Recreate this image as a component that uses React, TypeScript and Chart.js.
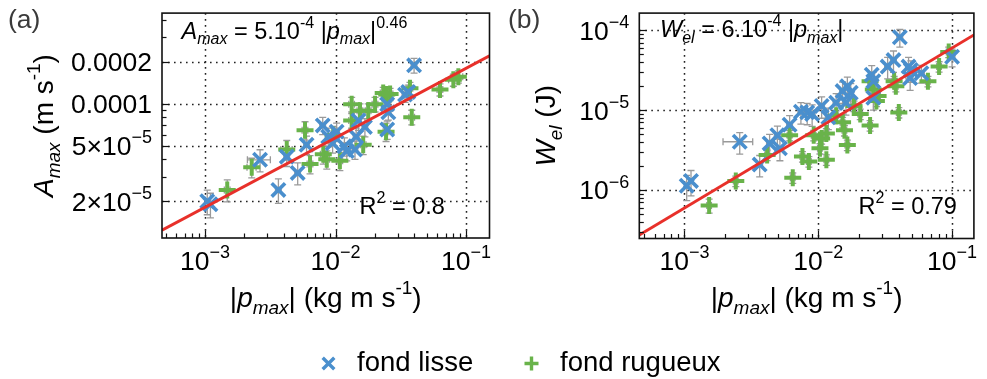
import React, { useEffect, useRef } from "react";
import { Chart, registerables } from "chart.js";
Chart.register(...registerables);

// ---------- Panel (a): A_max vs |p_max| ----------
const aLisseX = [1.04e-3, 1.1e-3, 2.64e-3, 3.65e-3, 4.23e-3, 5.13e-3, 6.0e-3, 7.98e-3, 8.8e-3, 1.02e-2, 9.5e-3, 1.17e-2, 1.22e-2, 1.41e-2, 1.44e-2, 1.5e-2, 1.68e-2, 2.49e-2, 2.54e-2, 2.49e-2, 3.41e-2, 3.61e-2, 4.0e-2];
const aLisseY = [2.0e-5, 1.9e-5, 3.96e-5, 2.41e-5, 4.17e-5, 3.19e-5, 5.08e-5, 6.98e-5, 5.8e-5, 6.3e-5, 5.2e-5, 4.95e-5, 4.57e-5, 4.69e-5, 5.8e-5, 7.57e-5, 6.8e-5, 9.9e-5, 8.66e-5, 6.53e-5, 1.16e-4, 1.21e-4, 1.88e-4];
const aLisseXErr = [0.04, 0.04, 0.2, 0.05, 0.05, 0.05, 0.05, 0.05, 0.05, 0.05, 0.05, 0.05, 0.05, 0.05, 0.05, 0.05, 0.05, 0.05, 0.05, 0.05, 0.05, 0.05, 0.05];
const aLisseYErr = [0.2, 0.2, 0.18, 0.2, 0.15, 0.18, 0.15, 0.14, 0.15, 0.15, 0.15, 0.15, 0.15, 0.15, 0.15, 0.15, 0.15, 0.12, 0.12, 0.15, 0.12, 0.12, 0.12];

const aRugX = [1.48e-3, 2.28e-3, 4.23e-3, 5.84e-3, 6.38e-3, 8.06e-3, 8.57e-3, 9.6e-3, 1.08e-2, 1.33e-2, 1.33e-2, 1.54e-2, 1.63e-2, 1.78e-2, 2.01e-2, 2.32e-2, 2.47e-2, 2.62e-2, 2.44e-2, 3.72e-2, 3.84e-2, 6.32e-2, 8.0e-2, 8.74e-2];
const aRugY = [2.41e-5, 3.5e-5, 4.69e-5, 6.45e-5, 3.69e-5, 4.33e-5, 3.99e-5, 5.96e-5, 3.89e-5, 9.9e-5, 7.57e-5, 8.88e-5, 5.08e-5, 8.88e-5, 9.9e-5, 1.19e-4, 1.16e-4, 1.17e-4, 6.3e-5, 1.29e-4, 8.0e-5, 1.26e-4, 1.48e-4, 1.56e-4];
const aRugXErr = [0.05, 0.08, 0.1, 0.05, 0.05, 0.05, 0.05, 0.05, 0.05, 0.05, 0.05, 0.05, 0.05, 0.05, 0.05, 0.05, 0.05, 0.05, 0.05, 0.05, 0.05, 0.05, 0.08, 0.08];
const aRugYErr = [0.18, 0.16, 0.16, 0.15, 0.15, 0.15, 0.15, 0.15, 0.15, 0.12, 0.12, 0.12, 0.15, 0.12, 0.12, 0.1, 0.1, 0.1, 0.15, 0.1, 0.12, 0.1, 0.1, 0.1];

const aFitX = [4.68e-4, 0.1514];
const aFitY = [1.24e-5, 2.2e-4];

const aXRange = [4.68e-4, 0.1514];
const aYRange = [1.09e-5, 4.45e-4];
const aYTicks = [2e-5, 5e-5, 1e-4, 2e-4];
const aYTickLabels = ["2×10^{−5}", "5×10^{−5}", "0.0001", "0.0002"];

// ---------- Panel (b): W_el vs |p_max| ----------
const bLisseX = [1.04e-3, 1.12e-3, 2.59e-3, 3.65e-3, 4.33e-3, 4.95e-3, 5.17e-3, 6.11e-3, 7.42e-3, 8.27e-3, 9.0e-3, 1.06e-2, 1.19e-2, 1.36e-2, 1.52e-2, 1.65e-2, 1.75e-2, 1.61e-2, 2.51e-2, 2.58e-2, 2.58e-2, 3.3e-2, 3.65e-2, 4.07e-2, 4.73e-2, 4.86e-2, 4.92e-2, 5.9e-2, 0.1];
const bLisseY = [1.13e-6, 1.3e-6, 4.02e-6, 2.08e-6, 3.83e-6, 4.85e-6, 3.32e-6, 6.55e-6, 9.55e-6, 9.37e-6, 8.93e-6, 1.13e-5, 8.13e-6, 1.24e-5, 1.73e-5, 1.99e-5, 1.65e-5, 1.24e-5, 2.77e-5, 2.3e-5, 1.43e-5, 3.51e-5, 4.23e-5, 8.18e-5, 3.51e-5, 2.52e-5, 3.18e-5, 2.9e-5, 4.65e-5];
const bLisseXErr = [0.04, 0.04, 0.25, 0.05, 0.05, 0.05, 0.05, 0.05, 0.05, 0.05, 0.05, 0.05, 0.05, 0.05, 0.05, 0.05, 0.05, 0.05, 0.05, 0.05, 0.05, 0.05, 0.05, 0.05, 0.05, 0.05, 0.05, 0.05, 0.05];
const bLisseYErr = [0.35, 0.35, 0.3, 0.3, 0.3, 0.3, 0.3, 0.3, 0.3, 0.3, 0.3, 0.3, 0.3, 0.3, 0.3, 0.3, 0.3, 0.3, 0.3, 0.3, 0.3, 0.3, 0.3, 0.25, 0.3, 0.3, 0.3, 0.25, 0.25];

const bRugX = [1.53e-3, 2.42e-3, 4.15e-3, 6.11e-3, 6.45e-3, 7.62e-3, 8.51e-3, 9.25e-3, 1.03e-2, 1.06e-2, 1.15e-2, 1.15e-2, 1.36e-2, 1.52e-2, 1.57e-2, 1.65e-2, 1.85e-2, 2.06e-2, 2.44e-2, 2.44e-2, 2.58e-2, 2.72e-2, 2.8e-2, 3.69e-2, 3.8e-2, 4.0e-2, 6.6e-2, 8.0e-2, 9.44e-2];
const bRugY = [6.4e-7, 1.3e-6, 2.75e-6, 4.85e-6, 1.42e-6, 2.63e-6, 2.28e-6, 4.85e-6, 3.32e-6, 4.41e-6, 2.39e-6, 5.08e-6, 8.53e-6, 7.06e-6, 5.58e-6, 3.66e-6, 1.13e-5, 8.93e-6, 6.44e-6, 2.3e-5, 1.81e-5, 1.3e-5, 1.5e-5, 2.3e-5, 1.99e-5, 9.37e-6, 2.3e-5, 3.51e-5, 5.36e-5];
const bRugXErr = [0.04, 0.04, 0.04, 0.04, 0.04, 0.04, 0.04, 0.04, 0.04, 0.04, 0.04, 0.04, 0.04, 0.04, 0.04, 0.04, 0.04, 0.04, 0.04, 0.04, 0.04, 0.04, 0.04, 0.04, 0.04, 0.04, 0.04, 0.04, 0.04];
const bRugYErr = [0.2, 0.15, 0.15, 0.15, 0.15, 0.15, 0.15, 0.15, 0.15, 0.15, 0.15, 0.15, 0.15, 0.15, 0.15, 0.15, 0.15, 0.15, 0.15, 0.15, 0.15, 0.15, 0.15, 0.15, 0.15, 0.15, 0.15, 0.15, 0.15];

const bFitX = [4.6e-4, 0.1456];
const bFitY = [2.73e-7, 8.74e-5];

const bXRange = [4.6e-4, 0.1456];
const bYRange = [2.47e-7, 1.64e-4];
const bYTicks = [1e-6, 1e-5, 1e-4];
const bYTickLabels = ["10^{−6}", "10^{−5}", "10^{−4}"];

// ---------- shared ----------
const xTicks = [1e-3, 1e-2, 1e-1];
const xTickLabels = ["10^{−3}", "10^{−2}", "10^{−1}"];
const seriesNames = ["fond lisse", "fond rugueux"];

const BLUE = "#4a8fcd";
const GREEN = "#69b34a";
const RED = "#e8302a";
const ERR = "#9a9a9a";
const FAMILY = '"Liberation Sans", Arial, Helvetica, sans-serif';
const SX = 1.0;

type Seg = { t: string; it: boolean; mode: number };
function parseRich(s: string): Seg[] {
  const segs: Seg[] = [];
  let it = false;
  let mode = 0;
  let buf = "";
  const flush = () => {
    if (buf) segs.push({ t: buf, it, mode });
    buf = "";
  };
  for (let i = 0; i < s.length; i++) {
    const c = s[i];
    if (c === "*") {
      flush();
      it = !it;
    } else if ((c === "^" || c === "_") && s[i + 1] === "{") {
      flush();
      mode = c === "^" ? 1 : -1;
      i++;
    } else if (c === "}" && mode !== 0) {
      flush();
      mode = 0;
    } else buf += c;
  }
  flush();
  return segs;
}

function drawRich(ctx: CanvasRenderingContext2D, str: string, x: number, y: number, size: number, align: string, color = "#000") {
  const segs = parseRich(str);
  const fonts = segs.map((s) => `${s.it ? "italic " : ""}${s.mode ? Math.round(size * 0.68) : size}px ${FAMILY}`);
  const widths = segs.map((s, i) => {
    ctx.font = fonts[i];
    return ctx.measureText(s.t).width;
  });
  const total = widths.reduce((a, b) => a + b, 0) * SX;
  const x0 = align === "center" ? x - total / 2 : align === "right" ? x - total : x;
  ctx.save();
  ctx.translate(x0, y);
  ctx.scale(SX, 1);
  ctx.fillStyle = color;
  ctx.textAlign = "left";
  ctx.textBaseline = "alphabetic";
  let cx = 0;
  segs.forEach((s, i) => {
    ctx.font = fonts[i];
    const dy = s.mode === 1 ? -size * 0.45 : s.mode === -1 ? size * 0.25 : 0;
    ctx.fillText(s.t, cx, dy);
    cx += widths[i];
  });
  ctx.restore();
}

type Series = { x: number[]; y: number[]; xe: number[]; ye: number[] };
type Panel = {
  id: string;
  pad: { left: number; right: number; top: number; bottom: number };
  xRange: number[];
  yRange: number[];
  lisse: Series;
  rug: Series;
  fitX: number[];
  fitY: number[];
  yTicks: number[];
  yTickLabels: string[];
  label: string;
  labelPos: number[];
  yTitle: string;
  yTitleX: number;
  xTitle: string;
  xTitleY: number;
  annot: string;
  annotPos: number[];
  r2: string;
  r2Pos: number[];
  legend: boolean;
};

const TICK = 26.5;
const TITLE = 28;
const ANN = 23.5;

function decorPlugin(p: Panel) {
  return {
    id: "decor" + p.id,
    beforeDatasetsDraw(chart: any) {
      const ctx: CanvasRenderingContext2D = chart.ctx;
      const { left, right, top, bottom } = chart.chartArea;
      const xs = chart.scales.x;
      const ys = chart.scales.y;
      ctx.save();
      ctx.strokeStyle = "#222";
      ctx.lineWidth = 1.5;
      ctx.setLineDash([1.6, 4.4]);
      for (const v of xTicks) {
        const px = Math.round(xs.getPixelForValue(v)) + 0.5;
        ctx.beginPath();
        ctx.moveTo(px, top);
        ctx.lineTo(px, bottom);
        ctx.stroke();
      }
      for (const v of p.yTicks) {
        const py = Math.round(ys.getPixelForValue(v)) + 0.5;
        ctx.beginPath();
        ctx.moveTo(left, py);
        ctx.lineTo(right, py);
        ctx.stroke();
      }
      ctx.setLineDash([]);
      ctx.strokeStyle = ERR;
      ctx.lineWidth = 1.3;
      const cap = 3.5;
      for (const s of [p.rug, p.lisse]) {
        for (let i = 0; i < s.x.length; i++) {
          const x = s.x[i];
          const y = s.y[i];
          const px = xs.getPixelForValue(x);
          const py = ys.getPixelForValue(y);
          const y1 = ys.getPixelForValue(y * (1 - s.ye[i]));
          const y2 = ys.getPixelForValue(y * (1 + s.ye[i]));
          const x1 = xs.getPixelForValue(x * (1 - s.xe[i]));
          const x2 = xs.getPixelForValue(x * (1 + s.xe[i]));
          ctx.beginPath();
          ctx.moveTo(px, y1);
          ctx.lineTo(px, y2);
          ctx.moveTo(px - cap, y1);
          ctx.lineTo(px + cap, y1);
          ctx.moveTo(px - cap, y2);
          ctx.lineTo(px + cap, y2);
          ctx.moveTo(x1, py);
          ctx.lineTo(x2, py);
          ctx.moveTo(x1, py - cap);
          ctx.lineTo(x1, py + cap);
          ctx.moveTo(x2, py - cap);
          ctx.lineTo(x2, py + cap);
          ctx.stroke();
        }
      }
      ctx.restore();
    },
    afterDatasetsDraw(chart: any) {
      const ctx: CanvasRenderingContext2D = chart.ctx;
      const { left, right, top, bottom } = chart.chartArea;
      const xs = chart.scales.x;
      const ys = chart.scales.y;
      ctx.save();
      // frame
      ctx.strokeStyle = "#111";
      ctx.lineWidth = 1.6;
      ctx.strokeRect(left, top, right - left, bottom - top);
      // ticks (inside, left and bottom)
      ctx.lineWidth = 1.2;
      const [xmin, xmax] = p.xRange;
      for (let k = Math.floor(Math.log10(xmin)); k <= Math.ceil(Math.log10(xmax)); k++) {
        for (let n = 1; n <= 9; n++) {
          const v = n * Math.pow(10, k);
          if (v < xmin || v > xmax) continue;
          const px = Math.round(xs.getPixelForValue(v)) + 0.5;
          const len = n === 1 ? 7.5 : 4.5;
          ctx.beginPath();
          ctx.moveTo(px, bottom);
          ctx.lineTo(px, bottom - len);
          ctx.stroke();
        }
      }
      const [ymin, ymax] = p.yRange;
      for (let k = Math.floor(Math.log10(ymin)); k <= Math.ceil(Math.log10(ymax)); k++) {
        for (let n = 1; n <= 9; n++) {
          const v = n * Math.pow(10, k);
          if (v < ymin || v > ymax) continue;
          const py = Math.round(ys.getPixelForValue(v)) + 0.5;
          const major = n === 1 || p.yTicks.some((t) => Math.abs(t - v) / v < 1e-6);
          const len = major ? 7.5 : 4.5;
          ctx.beginPath();
          ctx.moveTo(left, py);
          ctx.lineTo(left + len, py);
          ctx.stroke();
        }
      }
      // tick labels
      xTicks.forEach((v, i) => {
        drawRich(ctx, xTickLabels[i], xs.getPixelForValue(v), 270, TICK, "center");
      });
      p.yTicks.forEach((v, i) => {
        drawRich(ctx, p.yTickLabels[i], left - 10, ys.getPixelForValue(v) + 9.5, TICK, "right");
      });
      // titles
      drawRich(ctx, p.xTitle, (left + right) / 2, p.xTitleY, TITLE, "center");
      ctx.save();
      ctx.translate(p.yTitleX, (top + bottom) / 2);
      ctx.rotate(-Math.PI / 2);
      drawRich(ctx, p.yTitle, 0, 0, TITLE, "center");
      ctx.restore();
      // panel label
      drawRich(ctx, p.label, p.labelPos[0], p.labelPos[1], 26.5, "left", "#3a3a3a");
      // annotations
      drawRich(ctx, p.annot, p.annotPos[0], p.annotPos[1], ANN, "left");
      drawRich(ctx, p.r2, p.r2Pos[0], p.r2Pos[1], ANN, "left");
      // legend
      if (p.legend) {
        ctx.lineWidth = 3.4;
        ctx.strokeStyle = BLUE;
        const bx = 328.5, by = 363.5, bh = 5.8;
        ctx.beginPath();
        ctx.moveTo(bx - bh, by - bh);
        ctx.lineTo(bx + bh, by + bh);
        ctx.moveTo(bx + bh, by - bh);
        ctx.lineTo(bx - bh, by + bh);
        ctx.stroke();
        ctx.strokeStyle = GREEN;
        const gx = 531.5, gy = 363.5, gh = 7;
        ctx.beginPath();
        ctx.moveTo(gx - gh, gy);
        ctx.lineTo(gx + gh, gy);
        ctx.moveTo(gx, gy - gh);
        ctx.lineTo(gx, gy + gh);
        ctx.stroke();
        drawRich(ctx, seriesNames[0], 357, 370.5, 27.5, "left");
        drawRich(ctx, seriesNames[1], 560, 370.5, 27.5, "left");
      }
      ctx.restore();
    },
  };
}

function toPts(x: number[], y: number[]) {
  return x.map((v, i) => ({ x: v, y: y[i] }));
}

function makeChart(canvas: HTMLCanvasElement, p: Panel) {
  return new Chart(canvas, {
    type: "scatter",
    data: {
      datasets: [
        {
          label: "fit",
          data: toPts(p.fitX, p.fitY),
          showLine: true,
          borderColor: RED,
          borderWidth: 3,
          pointRadius: 0,
          fill: false,
        },
        {
          label: seriesNames[0],
          data: toPts(p.lisse.x, p.lisse.y),
          pointStyle: "crossRot",
          pointRadius: 9.5,
          pointBorderWidth: 3.6,
          borderWidth: 3.6,
          pointBorderColor: BLUE,
          pointBackgroundColor: BLUE,
          borderColor: BLUE,
          backgroundColor: BLUE,
        },
        {
          label: seriesNames[1],
          data: toPts(p.rug.x, p.rug.y),
          pointStyle: "cross",
          pointRadius: 8.5,
          pointBorderWidth: 4,
          borderWidth: 4,
          pointBorderColor: GREEN,
          pointBackgroundColor: GREEN,
          borderColor: GREEN,
          backgroundColor: GREEN,
        },
      ],
    } as any,
    options: {
      responsive: false,
      animation: false,
      devicePixelRatio: 1,
      events: [],
      layout: { padding: p.pad },
      scales: {
        x: { type: "logarithmic", min: p.xRange[0], max: p.xRange[1], display: false },
        y: { type: "logarithmic", min: p.yRange[0], max: p.yRange[1], display: false },
      },
      plugins: { legend: { display: false }, tooltip: { enabled: false } },
    } as any,
    plugins: [decorPlugin(p) as any],
  });
}

const W = 987;
const H = 379;

const panelA: Panel = {
  id: "a",
  pad: { left: 162, right: W - 489.5, top: 6, bottom: H - 238 },
  xRange: aXRange,
  yRange: aYRange,
  lisse: { x: aLisseX, y: aLisseY, xe: aLisseXErr, ye: aLisseYErr },
  rug: { x: aRugX, y: aRugY, xe: aRugXErr, ye: aRugYErr },
  fitX: aFitX,
  fitY: aFitY,
  yTicks: aYTicks,
  yTickLabels: aYTickLabels,
  label: "(a)",
  labelPos: [8, 28],
  yTitle: "*A*_{*max*} (m s^{-1})",
  yTitleX: 53,
  xTitle: "|*p*_{*max*}| (kg m s^{-1})",
  xTitleY: 306.5,
  annot: "*A*_{*max*} = 5.10^{-4} |*p*_{*max*}|^{0.46}",
  annotPos: [181.5, 38.5],
  r2: "R^{2} = 0.8",
  r2Pos: [359.5, 213.5],
  legend: true,
};

const panelB: Panel = {
  id: "b",
  pad: { left: 639.3, right: W - 986, top: 8.5, bottom: H - 238.5 },
  xRange: bXRange,
  yRange: bYRange,
  lisse: { x: bLisseX, y: bLisseY, xe: bLisseXErr, ye: bLisseYErr },
  rug: { x: bRugX, y: bRugY, xe: bRugXErr, ye: bRugYErr },
  fitX: bFitX,
  fitY: bFitY,
  yTicks: bYTicks,
  yTickLabels: bYTickLabels,
  label: "(b)",
  labelPos: [508, 28],
  yTitle: "*W*_{*el*} (J)",
  yTitleX: 555,
  xTitle: "|*p*_{*max*}| (kg m s^{-1})",
  xTitleY: 306.5,
  annot: "*W*_{*el*} = 6.10^{-4} |*p*_{*max*}|",
  annotPos: [660, 37],
  r2: "R^{2} = 0.79",
  r2Pos: [858.5, 213.5],
  legend: false,
};

export default function App() {
  const refA = useRef<HTMLCanvasElement | null>(null);
  const refB = useRef<HTMLCanvasElement | null>(null);
  useEffect(() => {
    const ca = makeChart(refA.current as HTMLCanvasElement, panelA);
    const cb = makeChart(refB.current as HTMLCanvasElement, panelB);
    return () => {
      ca.destroy();
      cb.destroy();
    };
  }, []);
  const cs: React.CSSProperties = { position: "absolute", left: 0, top: 0, width: W, height: H, display: "block" };
  return (
    <div style={{ position: "absolute", left: 0, top: 0, width: W, height: H, background: "#fff", overflow: "hidden" }}>
      <canvas ref={refB} width={W} height={H} style={cs} />
      <canvas ref={refA} width={W} height={H} style={cs} />
    </div>
  );
}
